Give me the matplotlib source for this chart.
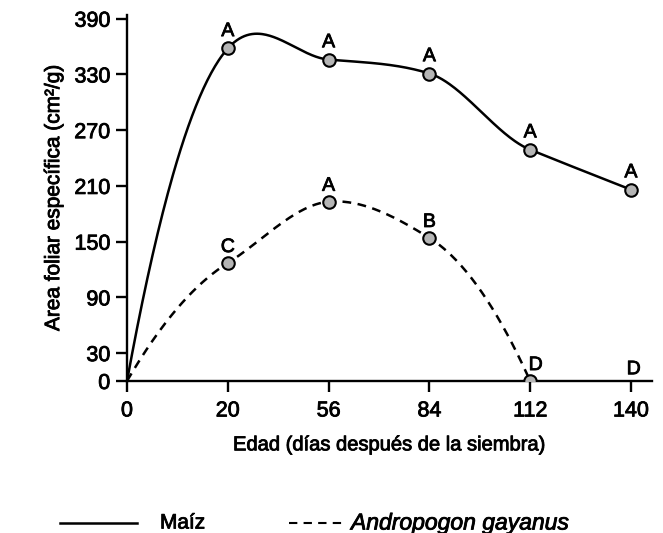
import numpy as np
import matplotlib
matplotlib.use("Agg")
import matplotlib.pyplot as plt
import matplotlib.patheffects as pe
from matplotlib.lines import Line2D

plt.rcParams['font.family'] = ['Liberation Sans', 'DejaVu Sans']

# Sampling days (placed at evenly spaced positions on the axis)
days = [0, 20, 56, 84, 112, 140]
maiz = [0, 358, 346, 331, 249, 206]
maiz_letters = [None, "A", "A", "A", "A", "A"]
andropogon = [0, 127, 193, 154, 0]
andro_letters = [None, "C", "A", "B", "D"]
extra_letter_day_idx = 5
extra_letter = "D"
yticks = [0, 30, 90, 150, 210, 270, 330, 390]

# slightly heavier strokes for the printed-look lettering
ink = [pe.withStroke(linewidth=0.6, foreground="black")]


def cardinal_curve(y, tension=0.3, n=80):
    """Smooth Hermite curve through equally spaced points."""
    y = np.asarray(y, float)
    k = len(y)
    m = np.zeros(k)
    for i in range(1, k - 1):
        m[i] = (1 - tension) * (y[i + 1] - y[i - 1]) / 2
    m[0] = 2 * (y[1] - y[0]) - m[1]
    m[-1] = 2 * (y[-1] - y[-2]) - m[-2]
    xs, ys = [], []
    t = np.linspace(0, 1, n)
    h00 = 2 * t ** 3 - 3 * t ** 2 + 1
    h10 = t ** 3 - 2 * t ** 2 + t
    h01 = -2 * t ** 3 + 3 * t ** 2
    h11 = t ** 3 - t ** 2
    for i in range(k - 1):
        xs.append(i + t)
        ys.append(h00 * y[i] + h10 * m[i] + h01 * y[i + 1] + h11 * m[i + 1])
    return np.concatenate(xs), np.concatenate(ys)


fig = plt.figure(figsize=(6.63, 5.33), dpi=100)
ax = fig.add_axes([0.1916, 0.2852, 0.792, 0.6867])

pos = np.arange(len(days))
pos_a = pos[:len(andropogon)]

cx, cy = cardinal_curve(maiz)
ax.plot(cx, cy, color="black", lw=1.8, zorder=2)
cx2, cy2 = cardinal_curve(andropogon)
ax.plot(cx2, cy2, color="black", lw=1.8, dashes=(3.5, 2.6), zorder=2)

mk = dict(marker="o", ms=9, mfc="#b5b5b5", mec="black", mew=1.5, ls="none", zorder=3)
ax.plot(pos[1:], maiz[1:], **mk)
ax.plot(pos_a[1:], andropogon[1:], **mk)

lbl = dict(textcoords="offset points", ha="center", va="bottom", fontsize=14,
           path_effects=ink)
for p, v, t in zip(pos, maiz, maiz_letters):
    if t:
        ax.annotate(t, (p, v), xytext=(0, 6), **lbl)
for p, v, t in zip(pos_a, andropogon, andro_letters):
    if t:
        dx = 4 if v == 0 else 0
        ax.annotate(t, (p, v), xytext=(dx, 5), **lbl)
ax.annotate(extra_letter, (pos[extra_letter_day_idx], 0), xytext=(2, 2), **lbl)

ax.set_xlim(0, 5.21)
ax.set_ylim(0, 394)
ax.set_xticks(pos)
ax.set_xticklabels([str(d) for d in days])
ax.set_yticks(yticks)
for s in ["top", "right"]:
    ax.spines[s].set_visible(False)
for s in ["left", "bottom"]:
    ax.spines[s].set_linewidth(1.7)
ax.tick_params(axis="both", direction="out", length=8, width=1.7, labelsize=15.5)
ax.tick_params(axis="x", pad=6)
ax.tick_params(axis="y", pad=4)
for t in ax.get_xticklabels() + ax.get_yticklabels():
    t.set_path_effects(ink)

ax.set_xlabel("Edad (días después de la siembra)", fontsize=14.5, labelpad=10,
              path_effects=ink)
ax.set_ylabel("Area foliar específica (cm²/g)", fontsize=15, labelpad=8,
              path_effects=ink)

# Legend drawn beneath the axes
ly = 1 - 523 / 533
fig.add_artist(Line2D([60 / 663, 137 / 663], [ly, ly], color="black", lw=1.8))
fig.text(160 / 663, ly, "Maíz", fontsize=15, va="center", path_effects=ink)
fig.add_artist(Line2D([289 / 663, 342 / 663], [ly, ly], color="black", lw=1.5,
                      dashes=(4, 3)))
fig.text(351 / 663, ly, "Andropogon gayanus", fontsize=16.5,
         style="italic", va="center", path_effects=ink)

fig.savefig("out.png", dpi=100, facecolor="white")
